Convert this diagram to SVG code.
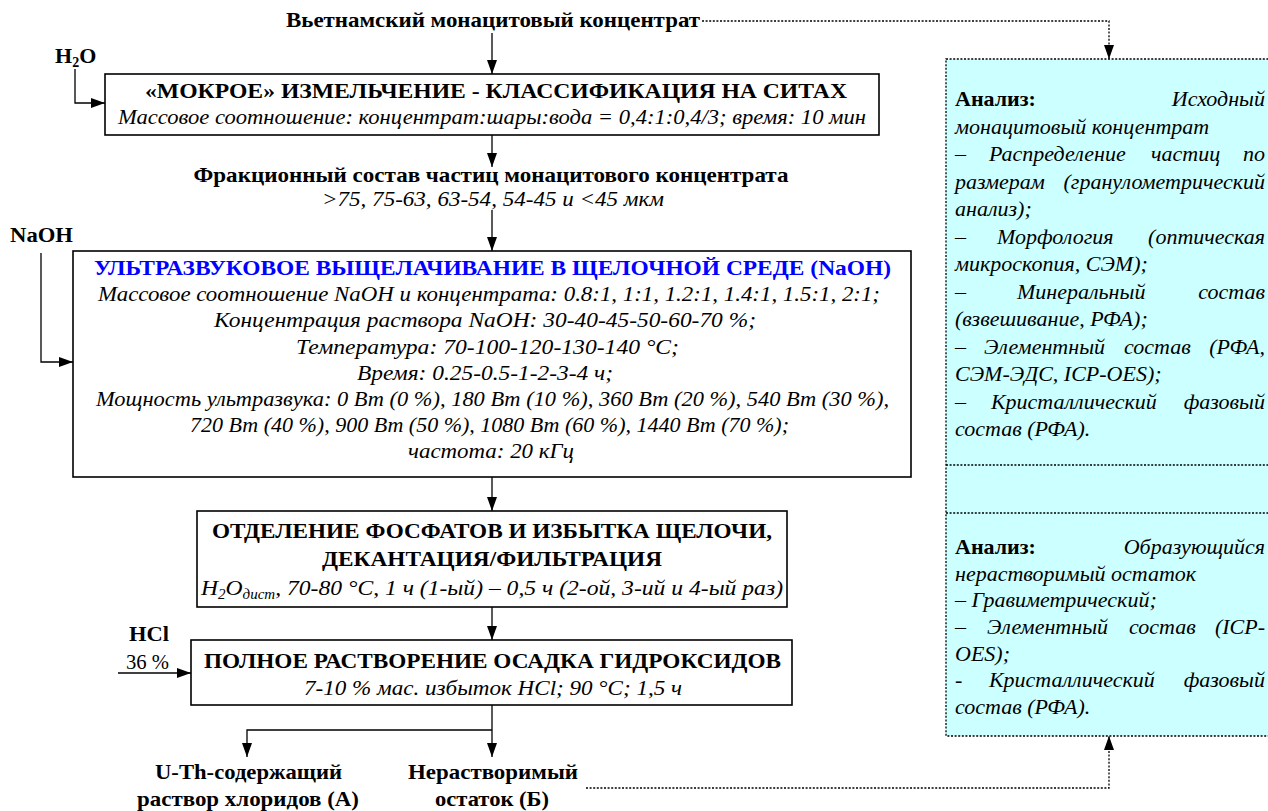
<svg xmlns="http://www.w3.org/2000/svg" width="1268" height="811" viewBox="0 0 1268 811" font-family="'Liberation Serif', 'Times New Roman', serif">
<style>
text{font-family:"Liberation Serif","Times New Roman",serif;font-size:22px;fill:#000}
.b{font-weight:bold}
.i{font-style:italic}
.m{text-anchor:middle}
.e{text-anchor:end}
.box{fill:#fff;stroke:#000;stroke-width:1.6}
.ln{stroke:#000;stroke-width:1.3;fill:none}
.dot{stroke:#000;stroke-width:1.3;stroke-dasharray:2 1.6;fill:none}
.pan{fill:#CCFFFF;stroke:#000;stroke-width:1.3;stroke-dasharray:2 1.6}
.blue{fill:#0000FF}
</style>
<defs>
<marker id="ah" markerWidth="14" markerHeight="10" refX="14" refY="5" orient="auto" markerUnits="userSpaceOnUse"><path d="M0,0 L14,5 L0,10 z" fill="#000"/></marker>
</defs>

<g id="panel">
<rect class="pan" x="946" y="59" width="340" height="677"/>
<line class="dot" x1="946" y1="465" x2="1268" y2="465"/>
<line class="dot" x1="946" y1="513" x2="1268" y2="513"/>
<text x="955" y="106"><tspan class="b">Анализ:</tspan><tspan class="i e" x="1265">Исходный</tspan></text>
<text class="i" x="955" y="133.5">монацитовый концентрат</text>
<text class="i" y="161"><tspan x="955">–</tspan><tspan x="989">Распределение</tspan><tspan x="1151">частиц</tspan><tspan class="e" x="1265">по</tspan></text>
<text class="i" y="188.5"><tspan x="955">размерам</tspan><tspan class="e" x="1265">(гранулометрический</tspan></text>
<text class="i" x="955" y="216">анализ);</text>
<text class="i" y="243.5"><tspan x="955">–</tspan><tspan x="997">Морфология</tspan><tspan class="e" x="1265">(оптическая</tspan></text>
<text class="i" x="955" y="271">микроскопия, СЭМ);</text>
<text class="i" y="298.5"><tspan x="955">–</tspan><tspan x="1017">Минеральный</tspan><tspan class="e" x="1265">состав</tspan></text>
<text class="i" x="955" y="326">(взвешивание, РФА);</text>
<text class="i" y="353.5"><tspan x="955">–</tspan><tspan x="984">Элементный</tspan><tspan x="1124">состав</tspan><tspan class="e" x="1265">(РФА,</tspan></text>
<text class="i" x="955" y="381">СЭМ-ЭДС, ICP-OES);</text>
<text class="i" y="408.5"><tspan x="955">–</tspan><tspan x="991">Кристаллический</tspan><tspan class="e" x="1265">фазовый</tspan></text>
<text class="i" x="955" y="436">состав (РФА).</text>

<text x="955" y="554"><tspan class="b">Анализ:</tspan><tspan class="i e" x="1265">Образующийся</tspan></text>
<text class="i" x="955" y="581">нерастворимый остаток</text>
<text class="i" x="955" y="607">– Гравиметрический;</text>
<text class="i" y="634"><tspan x="955">–</tspan><tspan x="987">Элементный</tspan><tspan x="1129">состав</tspan><tspan class="e" x="1265">(ICP-</tspan></text>
<text class="i" x="955" y="661">OES);</text>
<text class="i" y="687"><tspan x="955">-</tspan><tspan x="989">Кристаллический</tspan><tspan class="e" x="1265">фазовый</tspan></text>
<text class="i" x="955" y="714">состав (РФА).</text>
</g>

<g id="connectors">
<path class="dot" d="M702,21 H1109 V59" marker-end="url(#ah)"/>
<path class="ln" d="M492,33 V74" marker-end="url(#ah)"/>
<path class="ln" d="M75,69 V103 H105" marker-end="url(#ah)"/>
<path class="ln" d="M492,135 V167" marker-end="url(#ah)"/>
<path class="ln" d="M492,210 V251" marker-end="url(#ah)"/>
<path class="ln" d="M41,253 V362 H73" marker-end="url(#ah)"/>
<path class="ln" d="M492,477 V511" marker-end="url(#ah)"/>
<path class="ln" d="M492,607 V640" marker-end="url(#ah)"/>
<path class="ln" d="M118,673 H191" marker-end="url(#ah)"/>
<path class="ln" d="M492,705 V757" marker-end="url(#ah)"/>
<path class="ln" d="M492,730 H247 V757" marker-end="url(#ah)"/>
<path class="dot" d="M586,788 H1109 V736" marker-end="url(#ah)"/>
</g>

<g id="source">
<text class="b m" x="493" y="27" textLength="414" lengthAdjust="spacingAndGlyphs">Вьетнамский монацитовый концентрат</text>
</g>

<g id="h2o">
<text class="b" x="55" y="63">H<tspan font-size="14" dy="4">2</tspan><tspan dy="-4">O</tspan></text>
</g>

<g id="milling">
<rect class="box" x="105" y="74" width="774" height="61"/>
<text class="b m" x="496" y="98" textLength="702" lengthAdjust="spacingAndGlyphs">«МОКРОЕ» ИЗМЕЛЬЧЕНИЕ - КЛАССИФИКАЦИЯ НА СИТАХ</text>
<text class="i m" x="492" y="124" textLength="748" lengthAdjust="spacingAndGlyphs">Массовое соотношение: концентрат:шары:вода = 0,4:1:0,4/3; время: 10 мин</text>
</g>

<g id="fractions">
<text class="b m" x="491" y="182" textLength="595" lengthAdjust="spacingAndGlyphs">Фракционный состав частиц монацитового концентрата</text>
<text class="i m" x="493" y="206" textLength="342" lengthAdjust="spacingAndGlyphs">&gt;75, 75-63, 63-54, 54-45 и &lt;45 мкм</text>
</g>

<g id="naoh">
<text class="b" x="10" y="242" textLength="63" lengthAdjust="spacingAndGlyphs">NaOH</text>
</g>

<g id="leaching">
<rect class="box" x="73" y="251" width="838" height="226"/>
<text class="b m blue" x="492.5" y="275" textLength="797" lengthAdjust="spacingAndGlyphs">УЛЬТРАЗВУКОВОЕ ВЫЩЕЛАЧИВАНИЕ В ЩЕЛОЧНОЙ СРЕДЕ (NaOH)</text>
<text class="i m" x="489" y="301" textLength="782" lengthAdjust="spacingAndGlyphs">Массовое соотношение NaOH и концентрата: 0.8:1, 1:1, 1.2:1, 1.4:1, 1.5:1, 2:1;</text>
<text class="i m" x="485" y="327" textLength="542" lengthAdjust="spacingAndGlyphs">Концентрация раствора NaOH: 30-40-45-50-60-70 %;</text>
<text class="i m" x="487.5" y="354" textLength="383" lengthAdjust="spacingAndGlyphs">Температура: 70-100-120-130-140 °C;</text>
<text class="i m" x="485" y="380" textLength="256" lengthAdjust="spacingAndGlyphs">Время: 0.25-0.5-1-2-3-4 ч;</text>
<text class="i m" x="492.5" y="406" textLength="793" lengthAdjust="spacingAndGlyphs">Мощность ультразвука: 0 Вт (0 %), 180 Вт (10 %), 360 Вт (20 %), 540 Вт (30 %),</text>
<text class="i m" x="489.5" y="432" textLength="599" lengthAdjust="spacingAndGlyphs">720 Вт (40 %), 900 Вт (50 %), 1080 Вт (60 %), 1440 Вт (70 %);</text>
<text class="i m" x="491" y="458" textLength="166" lengthAdjust="spacingAndGlyphs">частота: 20 кГц</text>
</g>

<g id="separation">
<rect class="box" x="197" y="511" width="590" height="96"/>
<text class="b m" x="492" y="538" textLength="560" lengthAdjust="spacingAndGlyphs">ОТДЕЛЕНИЕ ФОСФАТОВ И ИЗБЫТКА ЩЕЛОЧИ,</text>
<text class="b m" x="492" y="566" textLength="340" lengthAdjust="spacingAndGlyphs">ДЕКАНТАЦИЯ/ФИЛЬТРАЦИЯ</text>
<text class="i m" x="492" y="595" textLength="582" lengthAdjust="spacingAndGlyphs">H<tspan font-size="14" dy="4">2</tspan><tspan dy="-4">O</tspan><tspan font-size="14" dy="4">дист</tspan><tspan dy="-4">, 70-80 °C, 1 ч (1-ый) – 0,5 ч (2-ой, 3-ий и 4-ый раз)</tspan></text>
</g>

<g id="hcl">
<text class="b" x="129" y="641" textLength="40" lengthAdjust="spacingAndGlyphs">HCl</text>
<text x="126" y="669" textLength="43" lengthAdjust="spacingAndGlyphs">36 %</text>
</g>

<g id="dissolution">
<rect class="box" x="191" y="640" width="601" height="65"/>
<text class="b m" x="492.5" y="668" textLength="577" lengthAdjust="spacingAndGlyphs">ПОЛНОЕ РАСТВОРЕНИЕ ОСАДКА ГИДРОКСИДОВ</text>
<text class="i m" x="493" y="695" textLength="378" lengthAdjust="spacingAndGlyphs">7-10 % мас. избыток HCl; 90 °C; 1,5 ч</text>
</g>

<g id="solution">
<text class="b m" x="248.5" y="779" textLength="187" lengthAdjust="spacingAndGlyphs">U-Th-содержащий</text>
<text class="b m" x="248" y="806" textLength="222" lengthAdjust="spacingAndGlyphs">раствор хлоридов (А)</text>
</g>

<g id="residue">
<text class="b m" x="493" y="779" textLength="170" lengthAdjust="spacingAndGlyphs">Нерастворимый</text>
<text class="b m" x="492" y="806" textLength="114" lengthAdjust="spacingAndGlyphs">остаток (Б)</text>
</g>
</svg>
